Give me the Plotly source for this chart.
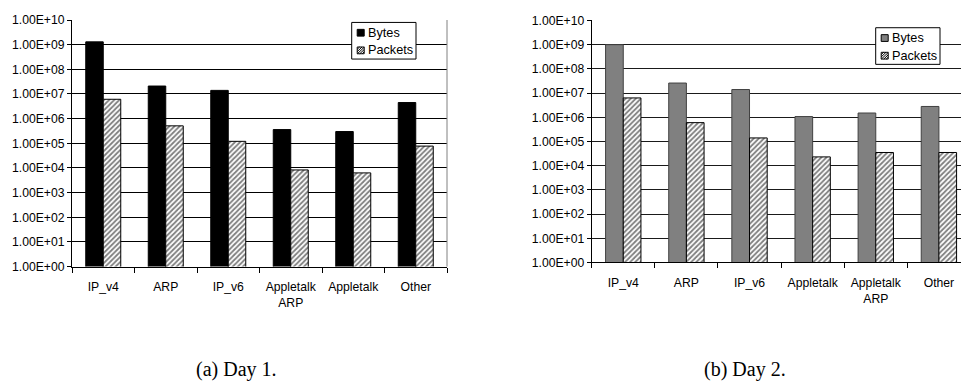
import plotly.graph_objects as go

# Traffic per protocol, two capture days (log scale)
categories_day1 = ["IP_v4", "ARP", "IP_v6", "Appletalk<br>ARP", "Appletalk", "Other"]
bytes_day1 = [1.3e9, 2.1e7, 1.4e7, 3.6e5, 3.0e5, 4.5e6]
packets_day1 = [6.1e6, 5.1e5, 1.2e5, 8.3e3, 6.3e3, 7.7e4]

categories_day2 = ["IP_v4", "ARP", "IP_v6", "Appletalk", "Appletalk<br>ARP", "Other"]
bytes_day2 = [1.0e9, 2.6e7, 1.4e7, 1.07e6, 1.5e6, 2.8e6]
packets_day2 = [6.3e6, 6.0e5, 1.4e5, 2.3e4, 3.5e4, 3.5e4]

exponents = list(range(0, 11))
tick_values = [10 ** e for e in exponents]
tick_labels = ["1.00E+%02d" % e for e in exponents]
series_names = ["Bytes", "Packets"]
captions = ["(a) Day 1.", "(b) Day 2."]

W, H = 961, 388
SANS = "Liberation Sans, Arial, sans-serif"
SERIF = "Liberation Serif, Times New Roman, serif"
FONT_SIZE = 12.2

BYTES1_COLOR = "#000000"
BYTES2_COLOR = "#808080"
hatch = dict(shape="/", fgcolor="#000000", bgcolor="#ffffff", size=3.6, solidity=0.52)


def px_x(v):
    return v / W


def px_y(v):
    return 1 - v / H


fig = go.Figure()

fig.add_trace(go.Bar(x=categories_day1, y=bytes_day1, name=series_names[0],
                     marker=dict(color=BYTES1_COLOR, line=dict(color="#000000", width=1)),
                     xaxis="x", yaxis="y", showlegend=False))
fig.add_trace(go.Bar(x=categories_day1, y=packets_day1, name=series_names[1],
                     marker=dict(color="#ffffff", pattern=hatch,
                                 line=dict(color="#000000", width=1)),
                     xaxis="x", yaxis="y", showlegend=False))
fig.add_trace(go.Bar(x=categories_day2, y=bytes_day2, name=series_names[0],
                     marker=dict(color=BYTES2_COLOR, line=dict(color="#404040", width=1)),
                     xaxis="x2", yaxis="y2", showlegend=False))
fig.add_trace(go.Bar(x=categories_day2, y=packets_day2, name=series_names[1],
                     marker=dict(color="#ffffff", pattern=hatch,
                                 line=dict(color="#000000", width=1)),
                     xaxis="x2", yaxis="y2", showlegend=False))

yaxis_common = dict(
    type="log", range=[0, 10], tickvals=tick_values, ticktext=tick_labels,
    showgrid=True, gridcolor="#000000", gridwidth=1,
    showline=True, linecolor="#000000", linewidth=1,
    ticks="outside", ticklen=4, tickcolor="#000000",
    tickfont=dict(family=SANS, size=FONT_SIZE, color="#000000"),
    zeroline=False, fixedrange=True,
)
xaxis_common = dict(
    type="category", showgrid=False,
    showline=True, linecolor="#000000", linewidth=1,
    ticks="outside", ticklen=5, tickcolor="#000000", tickson="boundaries",
    ticklabelstandoff=9,
    tickfont=dict(family=SANS, size=FONT_SIZE, color="#000000"),
    fixedrange=True,
)

shapes = [
    # plot-area frame on the right side of the first panel
    dict(type="line", xref="x domain", yref="y domain", x0=1, x1=1, y0=0, y1=1,
         line=dict(color="#808080", width=1)),
]
annotations = []


def hatch_path(x0, y_top, size, step):
    """Outline of a square swatch plus '/' diagonals, in paper coordinates."""
    y_bot = y_top + size
    pts = [(x0, y_bot), (x0 + size, y_bot), (x0 + size, y_top), (x0, y_top)]
    path = "M" + " L".join("%.5f,%.5f" % (px_x(a), px_y(b)) for a, b in pts) + " Z"
    c = -size + step
    while c < size:
        u0, u1 = max(0.0, -c), min(size, size - c)
        xa, ya = x0 + u0 + c, y_bot - u0
        xb, yb = x0 + u1 + c, y_bot - u1
        path += " M%.5f,%.5f L%.5f,%.5f" % (px_x(xa), px_y(ya), px_x(xb), px_y(yb))
        c += step
    return path


def add_key(left, top, bytes_color):
    """Boxed key with a solid swatch for Bytes and a hatched swatch for Packets."""
    width, height = 64.3, 38
    shapes.append(dict(type="rect", xref="paper", yref="paper",
                       x0=px_x(left), x1=px_x(left + width),
                       y0=px_y(top + height), y1=px_y(top),
                       line=dict(color="#000000", width=1), fillcolor="#ffffff", layer="above"))
    rows = [top + 10.7, top + 29]
    sw = 7
    sx0 = left + 5.5
    shapes.append(dict(type="rect", xref="paper", yref="paper",
                       x0=px_x(sx0), x1=px_x(sx0 + sw),
                       y0=px_y(rows[0] + sw / 2), y1=px_y(rows[0] - sw / 2),
                       line=dict(color="#000000", width=1), fillcolor=bytes_color, layer="above"))
    shapes.append(dict(type="path", xref="paper", yref="paper",
                       path=hatch_path(sx0, rows[1] - sw / 2, sw, 2.4),
                       line=dict(color="#000000", width=1), fillcolor="rgba(0,0,0,0)",
                       layer="above"))
    for name, yc in zip(series_names, rows):
        annotations.append(dict(text=name, x=px_x(sx0 + sw + 2), y=px_y(yc),
                                xref="paper", yref="paper", xanchor="left", yanchor="middle",
                                showarrow=False,
                                font=dict(family=SANS, size=FONT_SIZE + 0.5, color="#000000")))


add_key(351.7, 16, BYTES1_COLOR)
add_key(875.7, 21.5, BYTES2_COLOR)

annotations += [
    dict(text=captions[0], x=px_x(236), y=px_y(376), xref="paper", yref="paper",
         xanchor="center", yanchor="middle", showarrow=False,
         font=dict(family=SERIF, size=20, color="#000000")),
    dict(text=captions[1], x=px_x(745), y=px_y(376), xref="paper", yref="paper",
         xanchor="center", yanchor="middle", showarrow=False,
         font=dict(family=SERIF, size=20, color="#000000")),
]

fig.update_layout(
    width=W, height=H,
    margin=dict(l=0, r=0, t=0, b=0),
    paper_bgcolor="#ffffff", plot_bgcolor="#ffffff",
    barmode="group", bargap=0.44, bargroupgap=0,
    showlegend=False,
    xaxis=dict(xaxis_common, domain=[px_x(72), px_x(447)], range=[-0.5, 5.5], anchor="y"),
    yaxis=dict(yaxis_common, domain=[px_y(269.3), px_y(13.5)], anchor="x"),
    xaxis2=dict(xaxis_common, domain=[px_x(591.7), 1.0], range=[-0.5, 5.35], anchor="y2"),
    yaxis2=dict(yaxis_common, domain=[px_y(265), px_y(14)], anchor="x2", gridcolor="#1a1a1a"),
    shapes=shapes,
    annotations=annotations,
)

fig.write_html("out.html")
